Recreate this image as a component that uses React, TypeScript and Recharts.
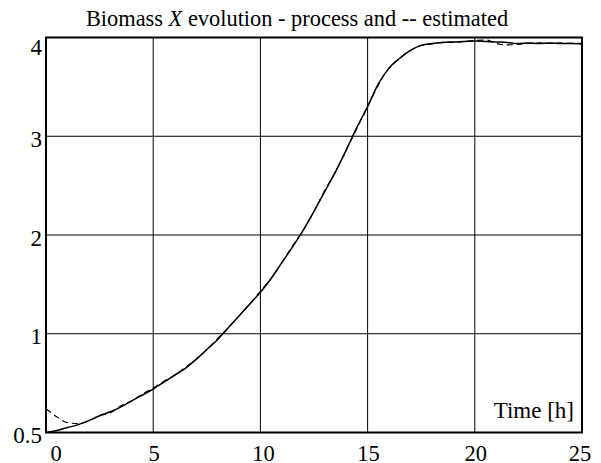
import React from 'react';
import { LineChart, Line, XAxis, YAxis, CartesianGrid, ReferenceArea } from 'recharts';

const time = [
  0, 0.5, 1, 1.5, 2, 2.5, 3, 3.5, 4, 4.5,
  5, 5.5, 6, 6.5, 7, 7.5, 8, 8.5, 9, 9.5,
  10, 10.5, 11, 11.5, 12, 12.5, 13, 13.5, 14, 14.5,
  15, 15.5, 16, 16.5, 17, 17.5, 18, 18.5, 19, 19.5,
  20, 20.5, 21, 21.5, 22, 22.5, 23, 23.5, 24, 24.5, 25,
];

// Biomass X (process), true values
const processX = [
  0.5, 0.51, 0.525, 0.54, 0.56, 0.585, 0.605, 0.63, 0.66, 0.69,
  0.72, 0.755, 0.79, 0.825, 0.87, 0.92, 0.97, 1.06, 1.18, 1.3,
  1.42, 1.56, 1.72, 1.88, 2.05, 2.24, 2.44, 2.64, 2.86, 3.09,
  3.3, 3.53, 3.69, 3.79, 3.87, 3.92, 3.94, 3.95, 3.955, 3.96,
  3.965, 3.96, 3.955, 3.95, 3.94, 3.945, 3.94, 3.945, 3.94, 3.94, 3.935,
];

// Biomass X (estimated)
const estimatedX = [
  0.62, 0.58, 0.55, 0.545, 0.56, 0.585, 0.6, 0.635, 0.66, 0.695,
  0.725, 0.76, 0.79, 0.83, 0.87, 0.92, 0.975, 1.06, 1.18, 1.3,
  1.43, 1.56, 1.72, 1.89, 2.05, 2.24, 2.45, 2.64, 2.86, 3.08,
  3.3, 3.52, 3.69, 3.79, 3.87, 3.92, 3.935, 3.95, 3.95, 3.96,
  3.97, 3.975, 3.94, 3.925, 3.93, 3.94, 3.945, 3.94, 3.945, 3.94, 3.94,
];

const xTicks = [0, 5, 10, 15, 20, 25];
const yTickLabels = ['0.5', '1', '2', '3', '4'];

// axis is linear 1..4, with the lowest interval covering 0.5..1
const toAxis = (v: number) => (v < 1 ? (v - 0.5) * 2 : v);
const yTicks = yTickLabels.map((s) => toAxis(parseFloat(s)));

const rows = time.map((t, i) => ({ time: t, process: processX[i], estimated: estimatedX[i] }));

const TXT: React.CSSProperties = { fontFamily: "'Liberation Serif', 'Times New Roman', Times, serif", fontSize: 23 };

const XTick = (props: any) => {
  const { x, y, payload } = props;
  const v = payload.value;
  const dx = v === 0 ? 10 : v === 10 ? 3 : v === 25 ? -2 : 1;
  return (
    <text x={x + dx} y={y + 28} textAnchor="middle" style={{ ...TXT, fontSize: 22.5 }} fill="#000">
      {String(v)}
    </text>
  );
};

const YTick = (props: any) => {
  const { x, y, payload, index } = props;
  const dy = payload.value === 4 ? 17.5 : 10.5;
  return (
    <text x={x} y={y + dy} textAnchor="end" style={TXT} fill="#000">
      {yTickLabels[index]}
    </text>
  );
};

const TimeLabel = (props: any) => {
  const vb = props.viewBox || {};
  return (
    <text x={vb.x + vb.width - 8} y={vb.y + vb.height - 15} textAnchor="end" style={TXT} fill="#000">
      Time [h]
    </text>
  );
};

export default function App() {
  return (
    <div style={{ position: 'absolute', left: 0, top: 0, width: 601, height: 463, background: '#fff' }}>
      <LineChart
        width={601}
        height={463}
        data={rows}
        margin={{ top: 37.5, right: 19, bottom: 0, left: 0 }}
      >
        <CartesianGrid stroke="#000" strokeWidth={1} />
        <XAxis
          dataKey="time"
          type="number"
          domain={[0, 25]}
          ticks={xTicks}
          height={30.5}
          axisLine={false}
          tickLine={false}
          tickSize={0}
          tickMargin={0}
          tick={XTick}
          interval={0}
        />
        <YAxis
          type="number"
          domain={[0, 4]}
          ticks={yTicks}
          width={46}
          axisLine={false}
          tickLine={false}
          tickSize={0}
          tickMargin={4}
          tick={YTick}
          interval={0}
        />
        <ReferenceArea
          x1={0}
          x2={25}
          y1={0}
          y2={4}
          fill="none"
          fillOpacity={0}
          stroke="#000"
          strokeWidth={2}
          label={TimeLabel}
        />
        <Line
          dataKey={(d: any) => toAxis(d.process)}
          type="monotone"
          stroke="#000"
          strokeWidth={1.5}
          dot={false}
          isAnimationActive={false}
        />
        <Line
          dataKey={(d: any) => toAxis(d.estimated)}
          type="monotone"
          stroke="#000"
          strokeWidth={1.2}
          strokeDasharray="6 4"
          dot={false}
          isAnimationActive={false}
        />
      </LineChart>
      <svg width={601} height={40} style={{ position: 'absolute', left: 0, top: 0, pointerEvents: 'none' }}>
        <text x={297} y={26} textAnchor="middle" style={{ ...TXT, fontSize: 22.4 }} fill="#000">
          Biomass <tspan fontStyle="italic">X</tspan> evolution - process and -- estimated
        </text>
      </svg>
    </div>
  );
}
